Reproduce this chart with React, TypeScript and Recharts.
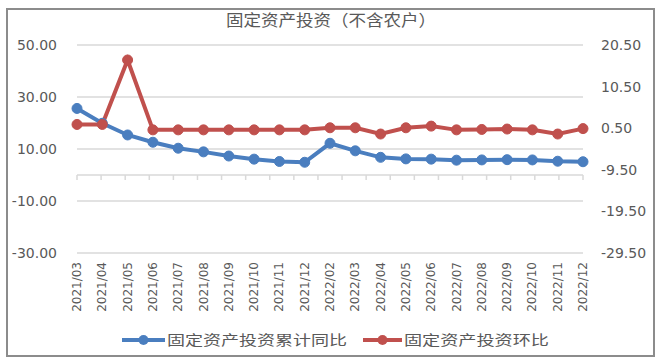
import { CartesianGrid, Legend, Line, LineChart, ReferenceLine, XAxis, YAxis } from "recharts"

// categories and series
const months = [
  "2021/03", "2021/04", "2021/05", "2021/06", "2021/07", "2021/08", "2021/09",
  "2021/10", "2021/11", "2021/12", "2022/02", "2022/03", "2022/04", "2022/05",
  "2022/06", "2022/07", "2022/08", "2022/09", "2022/10", "2022/11", "2022/12",
]
const cumulativeYoY = [25.6, 19.9, 15.4, 12.6, 10.3, 8.9, 7.3, 6.1, 5.2, 4.9, 12.2, 9.3, 6.8, 6.2, 6.1, 5.7, 5.8, 5.9, 5.8, 5.3, 5.1]
const monthOnMonth = [1.4, 1.4, 16.9, 0.1, 0.1, 0.1, 0.1, 0.1, 0.1, 0.1, 0.6, 0.6, -0.9, 0.6, 1.0, 0.1, 0.2, 0.3, 0.1, -0.9, 0.4]

const leftTicks = [50, 30, 10, -10, -30]
const rightTicks = [20.5, 10.5, 0.5, -9.5, -19.5, -29.5]

const title = "固定资产投资（不含农户）"
const seriesNames = ["固定资产投资累计同比", "固定资产投资环比"]

const BLUE = "#4a7ebf"
const RED = "#c0504d"
const TEXT = "#595959"
const GRID = "#d9d9d9"

const data = months.map((m, i) => ({
  month: m,
  yoy: cumulativeYoY[i],
  mom: monthOnMonth[i],
}))

const MonthTick = (props: any) => {
  const { x, y, payload } = props
  return (
    <g transform={`translate(${x},${y})`}>
      <text
        x={0}
        y={0}
        dy={4}
        textAnchor="end"
        transform="rotate(-90)"
        fill={TEXT}
        fontSize={12}
        fontFamily="DejaVu Sans"
      >
        {payload.value}
      </text>
    </g>
  )
}

// zero line with small tick marks at the category boundaries
const ZeroAxis = (props: any) => {
  const { x1, y1, x2 } = props
  const step = (x2 - x1) / months.length
  const ticks = []
  for (let i = 0; i <= months.length; i++) {
    ticks.push(<line key={i} x1={x1 + i * step} x2={x1 + i * step} y1={y1} y2={y1 + 5} stroke={GRID} strokeWidth={1.5} />)
  }
  return (
    <g>
      <line x1={x1} x2={x2} y1={y1} y2={y1} stroke={GRID} strokeWidth={1.5} />
      {ticks}
    </g>
  )
}

const LegendContent = () => {
  const items = [
    { name: seriesNames[0], color: BLUE, lineX: 122, lineW: 43, textLen: 180 },
    { name: seriesNames[1], color: RED, lineX: 363, lineW: 39, textLen: 145 },
  ]
  return (
    <svg width={662} height={24}>
      {items.map((it) => (
        <g key={it.name}>
          <line x1={it.lineX} x2={it.lineX + it.lineW} y1={12} y2={12} stroke={it.color} strokeWidth={4} />
          <circle cx={it.lineX + it.lineW / 2} cy={12} r={5} fill={it.color} />
          <text
            x={it.lineX + it.lineW + 2}
            y={12}
            dy={5}
            fill={TEXT}
            fontSize={14}
            fontFamily="Noto Sans CJK SC"
            textLength={it.textLen}
            lengthAdjust="spacingAndGlyphs"
          >
            {it.name}
          </text>
        </g>
      ))}
    </svg>
  )
}

export default function App() {
  return (
    <div style={{ position: "absolute", left: 0, top: 0, width: 662, height: 362, background: "#fff" }}>
      <div
        style={{
          position: "absolute",
          left: 6,
          top: 8,
          width: 645,
          height: 345,
          border: "2px solid #8c8c8c",
        }}
      />
      <svg style={{ position: "absolute", left: 0, top: 0 }} width={662} height={40}>
        <text
          x={331}
          y={26}
          textAnchor="middle"
          fill={TEXT}
          fontSize={16}
          fontFamily="Noto Sans CJK SC"
          textLength={210}
          lengthAdjust="spacingAndGlyphs"
        >
          {title}
        </text>
      </svg>
      <LineChart
        width={662}
        height={362}
        data={data}
        margin={{ top: 45, right: 0, bottom: 0, left: 0 }}
        style={{ position: "absolute", left: 0, top: 0 }}
      >
        <CartesianGrid yAxisId="left" vertical={false} stroke={GRID} strokeWidth={1.5} />
        <XAxis
          dataKey="month"
          type="category"
          interval={0}
          height={109}
          axisLine={false}
          tickLine={false}
          tickSize={0}
          tickMargin={9}
          tick={<MonthTick />}
        />
        <YAxis
          yAxisId="left"
          orientation="left"
          width={77}
          domain={[-30, 50]}
          ticks={leftTicks}
          axisLine={false}
          tickLine={false}
          tickSize={0}
          tickMargin={20}
          tickFormatter={(v: number) => v.toFixed(2)}
          tick={{ fill: TEXT, fontSize: 14, fontFamily: "DejaVu Sans" }}
        />
        <YAxis
          yAxisId="right"
          orientation="right"
          width={79}
          domain={[-29.5, 20.5]}
          ticks={rightTicks}
          axisLine={false}
          tickLine={false}
          tickSize={0}
          tickMargin={18}
          tickFormatter={(v: number) => v.toFixed(2)}
          tick={{ fill: TEXT, fontSize: 14, fontFamily: "DejaVu Sans" }}
        />
        <ReferenceLine yAxisId="left" y={0} shape={<ZeroAxis />} />
        <Legend
          layout="horizontal"
          verticalAlign="middle"
          align="center"
          wrapperStyle={{ top: 328, left: 0, width: 662, height: 24 }}
          content={<LegendContent />}
        />
        <Line
          yAxisId="left"
          dataKey="yoy"
          name={seriesNames[0]}
          stroke={BLUE}
          strokeWidth={4}
          dot={{ r: 5, fill: BLUE, stroke: BLUE, strokeWidth: 1 }}
          isAnimationActive={false}
        />
        <Line
          yAxisId="right"
          dataKey="mom"
          name={seriesNames[1]}
          stroke={RED}
          strokeWidth={4}
          dot={{ r: 5, fill: RED, stroke: RED, strokeWidth: 1 }}
          isAnimationActive={false}
        />
      </LineChart>
    </div>
  )
}
